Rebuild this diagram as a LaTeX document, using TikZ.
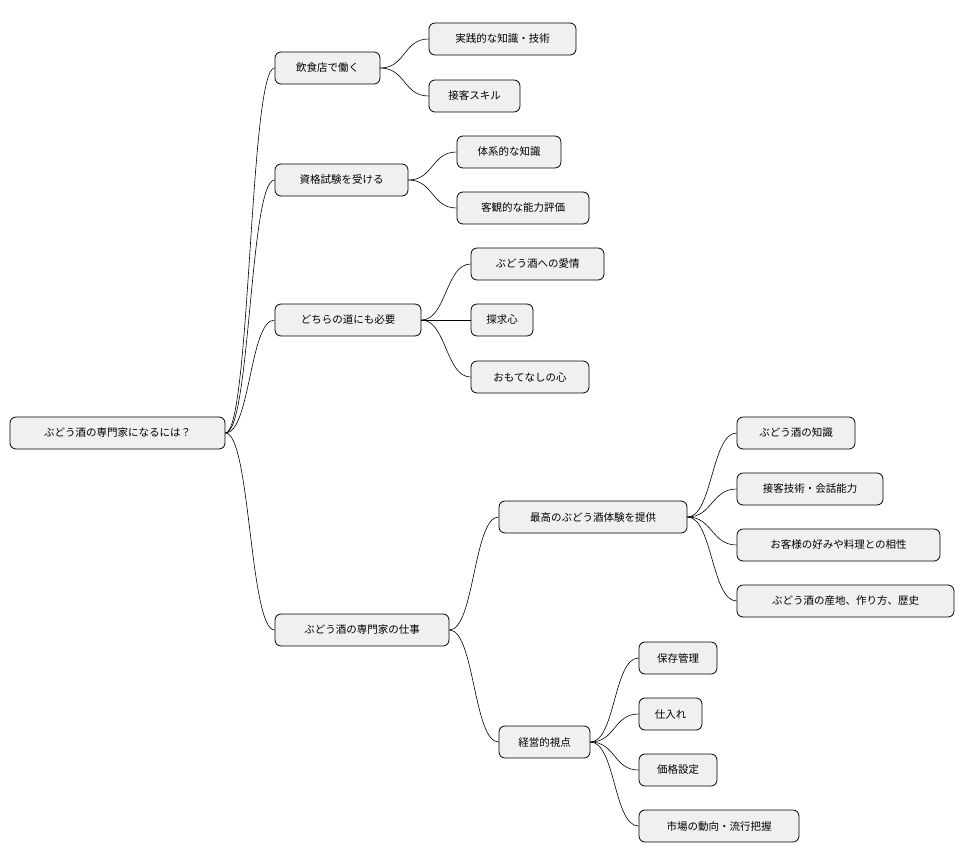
\documentclass[tikz,border=0pt]{standalone}
\usepackage{fontspec}
\setmainfont{Noto Sans CJK JP}
\begin{document}
\begin{tikzpicture}[x=1pt,y=-1pt,
  n/.style={draw=black,fill=black!6,rounded corners=6pt,line width=0.8pt,minimum height=32pt,inner sep=0pt,font=\fontsize{10.5}{12}\selectfont},
  e/.style={line width=0.6pt}]
\useasboundingbox (0,0) rectangle (964,865);
\newcommand\nd[5]{\node[n,minimum width=#3-#2] (#1) at ({(#2+#3)/2},#4) {#5};}
\nd{r}{10}{225}{433}{ぶどう酒の専門家になるには？}
\nd{a}{275}{380}{68}{飲食店で働く}
\nd{a1}{429}{576}{39}{実践的な知識・技術}
\nd{a2}{429}{520}{96}{接客スキル}
\nd{b}{275}{408}{180}{資格試験を受ける}
\nd{b1}{457}{561}{152}{体系的な知識}
\nd{b2}{457}{589}{208}{客観的な能力評価}
\nd{c}{275}{421}{320}{どちらの道にも必要}
\nd{c1}{471}{604}{264}{ぶどう酒への愛情}
\nd{c2}{471}{533}{320}{探求心}
\nd{c3}{471}{589}{377}{おもてなしの心}
\nd{d}{275}{449}{630}{ぶどう酒の専門家の仕事}
\nd{d1}{499}{687}{517}{最高のぶどう酒体験を提供}
\nd{d11}{737}{855}{433}{ぶどう酒の知識}
\nd{d12}{737}{883}{489}{接客技術・会話能力}
\nd{d13}{737}{940}{545}{お客様の好みや料理との相性}
\nd{d14}{737}{954}{601}{ぶどう酒の産地、作り方、歴史}
\nd{d2}{499}{590}{742}{経営的視点}
\nd{d21}{639}{717}{658}{保存管理}
\nd{d22}{639}{702}{714}{仕入れ}
\nd{d23}{639}{717}{770}{価格設定}
\nd{d24}{639}{799}{826}{市場の動向・流行把握}
\foreach \p/\c in {r/a,r/b,r/c,r/d,a/a1,a/a2,b/b1,b/b2,c/c1,c/c2,c/c3,d/d1,d/d2,d1/d11,d1/d12,d1/d13,d1/d14,d2/d21,d2/d22,d2/d23,d2/d24}
  \draw[e] (\p.east) .. controls +(25,0) and +(-25,0) .. (\c.west);
\end{tikzpicture}
\end{document}
